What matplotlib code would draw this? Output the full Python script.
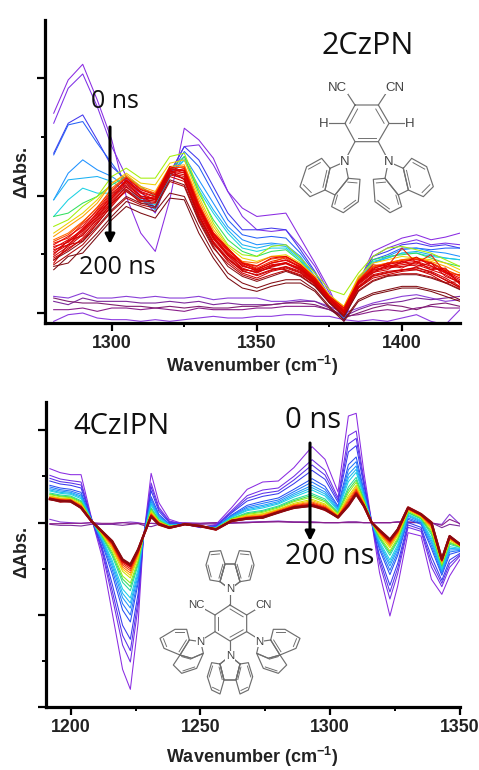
#!/usr/bin/env python3
import numpy as np
import matplotlib
matplotlib.use("Agg")
import matplotlib.pyplot as plt
from matplotlib.colors import LinearSegmentedColormap
from matplotlib.ticker import FixedLocator

W, H = 479, 770

# ── Upper panel (2CzPN), absorbance in arbitrary units ───────────────────────
top_wn = [1280, 1285, 1290, 1295, 1300, 1305, 1310, 1315, 1320, 1325, 1330, 1335, 1340, 1345, 1350,
          1355, 1360, 1365, 1370, 1375, 1380, 1385, 1390, 1395, 1400, 1405, 1410, 1415, 1420]

top_spectra = [
    [600, 700, 747, 640, 520, 350, 240, 185, 340, 555, 520, 465, 365, 315, 290, 295, 300, 225, 150, 70, -25, 90, 185, 205, 225, 235, 220, 228, 240],
    [570, 675, 718, 620, 500, 410, 350, 300, 420, 500, 505, 445, 365, 290, 250, 245, 250, 200, 140, 60, -20, 90, 170, 195, 210, 220, 205, 210, 205],
    [480, 570, 595, 520, 440, 400, 365, 315, 420, 500, 460, 380, 300, 250, 250, 255, 250, 190, 125, 50, -20, 95, 170, 185, 205, 210, 200, 205, 195],
    [475, 565, 575, 510, 450, 390, 350, 315, 415, 485, 440, 360, 280, 235, 225, 230, 225, 180, 120, 50, -20, 90, 160, 175, 195, 195, 190, 195, 195],
    [340, 420, 460, 430, 410, 380, 340, 315, 410, 470, 400, 330, 260, 220, 205, 210, 205, 170, 110, 45, -15, 95, 150, 170, 190, 195, 185, 180, 170],
    [340, 400, 405, 410, 395, 365, 340, 310, 410, 460, 380, 310, 250, 205, 195, 205, 200, 165, 105, 45, -10, 95, 150, 165, 180, 185, 175, 165, 160],
    [290, 340, 375, 360, 360, 370, 340, 325, 415, 460, 370, 300, 240, 195, 185, 195, 195, 160, 105, 45, -5, 100, 155, 165, 180, 180, 170, 165, 160],
    [290, 300, 330, 350, 385, 410, 380, 350, 430, 470, 360, 280, 220, 185, 170, 185, 190, 155, 105, 50, 5, 105, 160, 170, 175, 180, 165, 150, 140],
    [260, 280, 320, 350, 410, 435, 405, 405, 470, 480, 370, 270, 205, 175, 170, 200, 205, 165, 120, 70, 55, 120, 170, 195, 200, 190, 180, 160, 140],
    [240, 270, 300, 340, 390, 420, 390, 385, 450, 460, 350, 260, 200, 165, 155, 170, 175, 150, 110, 55, 20, 110, 150, 160, 170, 165, 160, 150, 130],
    [230, 260, 290, 330, 390, 415, 380, 365, 440, 445, 340, 250, 195, 150, 130, 150, 170, 145, 110, 50, 20, 105, 140, 150, 160, 165, 155, 140, 120],
    [220, 240, 275, 315, 375, 410, 375, 360, 435, 440, 330, 240, 190, 155, 150, 170, 170, 145, 105, 50, 15, 100, 140, 150, 160, 165, 150, 130, 110],
    [215, 235, 272, 318, 370, 408, 372, 358, 436, 438, 328, 242, 192, 152, 142, 162, 168, 142, 102, 48, 12, 98, 138, 148, 158, 162, 152, 130, 112],
    [210, 225, 268, 305, 360, 395, 350, 345, 420, 435, 325, 230, 180, 150, 135, 155, 165, 135, 100, 45, 10, 95, 145, 140, 195, 150, 175, 120, 115],
    [205, 230, 260, 310, 365, 405, 370, 355, 430, 430, 320, 240, 195, 150, 140, 165, 170, 145, 105, 50, 15, 95, 135, 145, 155, 160, 150, 125, 105],
    [200, 212, 255, 300, 350, 398, 362, 348, 430, 428, 318, 236, 190, 148, 132, 150, 158, 138, 98, 45, 8, 92, 132, 150, 150, 168, 142, 122, 100],
    [195, 220, 250, 300, 355, 400, 365, 350, 440, 425, 315, 235, 185, 140, 130, 150, 160, 140, 100, 45, 5, 95, 130, 140, 150, 155, 140, 120, 95],
    [190, 205, 250, 288, 345, 390, 352, 340, 425, 422, 312, 228, 178, 142, 128, 142, 152, 132, 95, 42, 2, 90, 128, 138, 145, 150, 135, 128, 88],
    [185, 215, 245, 295, 345, 395, 360, 340, 435, 420, 310, 230, 175, 145, 125, 145, 150, 135, 95, 45, 5, 85, 120, 145, 135, 155, 130, 135, 85],
    [180, 205, 240, 290, 340, 385, 350, 345, 425, 415, 305, 225, 175, 135, 120, 140, 150, 130, 95, 40, 0, 90, 125, 135, 140, 145, 130, 115, 90],
    [175, 218, 232, 285, 335, 378, 345, 342, 420, 410, 300, 222, 172, 132, 122, 138, 148, 128, 92, 38, 0, 88, 122, 130, 155, 140, 150, 110, 92],
    [165, 190, 225, 275, 330, 380, 345, 335, 415, 405, 295, 215, 165, 125, 115, 130, 140, 125, 90, 35, -5, 80, 115, 125, 130, 135, 125, 105, 80],
    [170, 200, 235, 280, 330, 365, 335, 340, 430, 400, 290, 210, 155, 120, 105, 125, 135, 120, 85, 35, -10, 75, 110, 120, 130, 130, 120, 100, 75],
    [158, 195, 220, 268, 325, 372, 338, 332, 420, 402, 292, 212, 160, 128, 112, 128, 138, 122, 88, 34, -8, 78, 112, 122, 128, 138, 122, 98, 78],
    [150, 205, 215, 270, 320, 370, 330, 330, 410, 395, 285, 205, 165, 130, 125, 135, 130, 115, 90, 30, -5, 75, 105, 115, 125, 130, 115, 90, 95],
    [145, 175, 205, 255, 305, 345, 325, 315, 395, 380, 275, 195, 148, 115, 100, 115, 128, 112, 82, 32, -12, 68, 98, 112, 118, 118, 108, 92, 72],
    [160, 185, 215, 260, 310, 350, 330, 320, 400, 385, 280, 200, 140, 110, 95, 110, 125, 110, 80, 30, -10, 65, 95, 110, 115, 115, 105, 90, 70],
    [140, 150, 195, 240, 290, 335, 320, 305, 360, 350, 260, 180, 120, 90, 75, 90, 100, 100, 70, 20, -20, 40, 60, 70, 80, 80, 70, 60, 40],
    [130, 170, 180, 230, 280, 320, 300, 285, 345, 340, 240, 165, 105, 75, 65, 80, 90, 90, 65, 15, -25, 35, 55, 65, 75, 75, 65, 50, 35],
]

# late traces sitting near the baseline
top_flat = [
    [50, 45, 60, 45, 45, 50, 45, 50, 45, 45, 50, 40, 45, 45, 45, 35, 35, 40, 35, 20, 0, 15, 30, 40, 50, 55, 45, 35, 40],
    [35, 25, 45, 35, 35, 35, 30, 30, 35, 30, 35, 25, 30, 25, 25, 25, 30, 35, 35, 15, -10, 10, 25, 30, 35, 45, 40, 45, 50],
    [10, 10, 15, 5, 15, 15, 10, 15, 10, 5, 15, 10, 10, 10, 15, 15, 20, 20, 20, 10, -10, -5, 5, 10, 5, 15, 20, 15, 15],
    [-25, -5, 0, -15, -20, -20, -25, -20, -25, -20, -15, -10, -15, -15, -10, -10, -5, -5, -10, -10, -20, -25, -20, -25, -15, -5, -25, -35, 10],
    [45, 35, 30, 30, 25, 20, 20, 15, 20, 15, 20, 15, 15, 20, 20, 25, 30, 30, 25, 10, -15, 0, 15, 25, 20, 10, 25, 30, 20],
]

# ── Lower panel (4CzIPN) ─────────────────────────────────────────────────────
bot_wn = [1192, 1196, 1200, 1204, 1208, 1212, 1216, 1220, 1223, 1226, 1228, 1231, 1234, 1238, 1244, 1250, 1256, 1262, 1268,
          1274, 1280, 1286, 1293, 1298, 1303, 1307, 1310, 1313, 1316, 1319, 1323, 1326, 1330, 1335, 1339, 1343, 1346, 1350]

bot_spectra = [
    [162, 150, 144, 144, 15, -100, -270, -440, -500, -300, -50, 148, 60, 10, -5, -15, -5, 45, 100, 122, 125, 165, 228, 190, 92, 320, 328, 150, 0, -150, -280, -190, -30, -40, -170, -215, -160, -110],
    [142, 131, 126, 122, 13, -84, -223, -367, -418, -252, -48, 119, 46, 5, -5, -14, -8, 36, 81, 98, 104, 139, 189, 157, 75, 261, 275, 128, 0, -122, -229, -153, -14, -26, -133, -192, -134, -100],
    [133, 123, 119, 113, 12, -77, -204, -338, -384, -232, -47, 108, 40, 3, -5, -13, -9, 32, 73, 88, 95, 128, 173, 143, 68, 236, 253, 119, 0, -110, -208, -137, -7, -20, -118, -182, -123, -96],
    [125, 116, 112, 104, 11, -70, -184, -308, -350, -212, -46, 96, 34, 0, -5, -13, -11, 29, 65, 79, 87, 117, 157, 130, 61, 212, 231, 110, 0, -99, -188, -122, 0, -14, -102, -173, -112, -92],
    [112, 104, 100, 91, 10, -60, -154, -262, -298, -181, -45, 78, 25, -4, -5, -12, -13, 23, 52, 64, 74, 100, 132, 109, 50, 174, 197, 96, 0, -81, -156, -98, 10, -5, -78, -158, -95, -86],
    [107, 99, 95, 85, 9, -55, -141, -243, -277, -169, -44, 71, 21, -5, -5, -12, -14, 21, 47, 58, 68, 93, 122, 100, 46, 159, 183, 90, 0, -74, -143, -89, 14, -1, -69, -152, -88, -83],
    [102, 95, 91, 80, 9, -51, -130, -225, -256, -157, -44, 64, 18, -6, -5, -12, -15, 19, 43, 52, 63, 87, 112, 92, 42, 145, 170, 85, 0, -67, -130, -80, 19, 2, -60, -147, -82, -81],
    [98, 91, 88, 76, 8, -48, -121, -212, -241, -148, -43, 58, 15, -7, -5, -11, -15, 17, 39, 48, 59, 82, 105, 86, 39, 134, 160, 81, 0, -62, -121, -73, 22, 5, -53, -142, -77, -79],
    [95, 88, 85, 72, 8, -45, -113, -199, -226, -139, -43, 53, 13, -8, -5, -11, -16, 16, 36, 44, 56, 77, 98, 80, 36, 123, 151, 77, 0, -57, -112, -66, 25, 7, -46, -138, -72, -77],
    [89, 83, 80, 66, 7, -41, -100, -179, -204, -126, -42, 45, 9, -10, -5, -11, -17, 13, 30, 37, 50, 70, 87, 71, 31, 107, 136, 71, 0, -49, -98, -56, 29, 11, -36, -132, -65, -74],
    [86, 80, 77, 63, 7, -38, -93, -169, -192, -119, -42, 41, 7, -10, -5, -11, -17, 12, 27, 34, 47, 66, 82, 66, 29, 98, 128, 68, 0, -45, -91, -51, 31, 13, -30, -129, -61, -73],
    [84, 78, 75, 60, 7, -36, -87, -160, -181, -113, -42, 37, 5, -11, -5, -11, -18, 11, 25, 31, 44, 63, 77, 62, 27, 90, 121, 65, 0, -41, -85, -46, 34, 15, -25, -126, -58, -72],
    [80, 74, 72, 56, 6, -33, -79, -146, -166, -104, -41, 32, 2, -12, -5, -10, -18, 9, 22, 27, 40, 58, 70, 56, 23, 80, 112, 61, 0, -36, -75, -39, 37, 18, -19, -122, -53, -70],
    [78, 72, 70, 54, 6, -31, -74, -139, -158, -99, -41, 29, 1, -12, -5, -10, -18, 8, 20, 25, 39, 55, 66, 53, 21, 74, 107, 59, 0, -33, -70, -35, 38, 19, -15, -119, -50, -69],
    [76, 71, 69, 52, 6, -30, -70, -133, -151, -95, -41, 27, 0, -13, -5, -10, -19, 8, 18, 22, 37, 53, 62, 50, 20, 69, 102, 57, 0, -31, -66, -32, 40, 20, -12, -117, -48, -68],
    [74, 69, 67, 50, 5, -29, -66, -127, -144, -91, -40, 25, -1, -13, -5, -10, -19, 7, 16, 20, 35, 51, 59, 47, 19, 64, 98, 55, 0, -29, -62, -29, 41, 22, -9, -115, -46, -67],
    [73, 68, 66, 48, 5, -28, -63, -122, -138, -88, -40, 23, -2, -14, -5, -10, -19, 6, 15, 19, 33, 49, 56, 45, 18, 59, 94, 53, 0, -27, -58, -26, 42, 23, -6, -114, -44, -67],
    [71, 66, 64, 46, 5, -26, -59, -116, -131, -84, -40, 20, -3, -15, -5, -10, -20, 5, 13, 17, 31, 47, 53, 42, 16, 54, 89, 51, 0, -24, -54, -23, 44, 24, -3, -112, -42, -66],
    [72, 63, 66, 44, 4, -27, -57, -112, -127, -81, -40, 19, -6, -16, -4, -11, -21, 6, 12, 15, 32, 44, 52, 38, 17, 52, 86, 49, 0, -23, -52, -21, 46, 26, 1, -109, -41, -64],
    [70, 65, 63, 45, 5, -25, -55, -110, -125, -80, -40, 18, -5, -15, -5, -10, -20, 5, 12, 15, 30, 45, 50, 40, 15, 50, 85, 50, 0, -22, -50, -20, 45, 25, 0, -110, -40, -65],
]

bot_flat = [
    [10, 2, 0, -2, 0, -5, -3, 0, 2, 0, -3, -2, -5, 0, 0, -2, 0, 0, 2, 3, 5, 2, 2, 0, 0, 2, 2, 0, 0, 0, 0, 2, 2, 0, -2, -5, 25, -5],
    [-5, -8, -8, -10, -5, -5, -5, -8, -5, -3, -8, -12, -5, -5, -5, -5, -3, -2, 0, 2, 3, 1, 0, 0, 0, 0, 0, 0, 0, 0, 0, 2, 2, 0, 0, -15, -5, -10],
    [-3, -3, -2, -2, 0, -2, -2, 0, -2, -2, -4, -2, -2, -2, -2, -2, 0, 0, 0, 2, 3, 2, 2, 0, 0, 2, 2, 0, 0, 0, 0, 2, 0, 0, 0, -8, 10, -3],
]

top_xticks = [1300, 1350, 1400]
bot_xticks = [1200, 1250, 1300, 1350]

# the upper panel spends more of its traces in the red end
top_cmap = LinearSegmentedColormap.from_list("spec_top", [
    (0.00, "#8a2be2"), (0.05, "#7a30e8"), (0.08, "#2a3cf0"), (0.14, "#1e90ff"), (0.21, "#19d0e8"),
    (0.25, "#30e060"), (0.29, "#b0f000"), (0.33, "#ffc800"), (0.40, "#ff5a00"),
    (0.50, "#e60000"), (0.88, "#c80000"), (0.93, "#8a1015"), (1.00, "#7a0a10"),
])
bot_cmap = LinearSegmentedColormap.from_list("spec_bot", [
    (0.00, "#8a2be2"), (0.10, "#5a30ea"), (0.18, "#2a3cf0"), (0.30, "#1e90ff"), (0.42, "#19d0e8"),
    (0.52, "#30e060"), (0.60, "#b0f000"), (0.68, "#ffc800"), (0.76, "#ff5a00"),
    (0.88, "#e00000"), (1.00, "#8a0a10"),
])


def make_axes(fig, left, right, top_px, bottom_px):
    return fig.add_axes([left / W, 1 - bottom_px / H, (right - left) / W, (bottom_px - top_px) / H])


def style_axes(ax, xticks, xminor, ymajor, yminor):
    ax.patch.set_alpha(0)
    ax.spines[["top", "right"]].set_visible(False)
    ax.spines[["left", "bottom"]].set_linewidth(2.3)
    ax.set_xticks(xticks)
    ax.xaxis.set_minor_locator(FixedLocator(xminor))
    ax.set_yticks(ymajor)
    ax.set_yticklabels([])
    ax.yaxis.set_minor_locator(FixedLocator(yminor))
    ax.tick_params(which="major", length=5.5, width=1.6, labelsize=12.8)
    ax.tick_params(which="minor", length=3, width=1.4)
    ax.tick_params(axis="x", pad=3.5)
    for lab in ax.get_xticklabels():
        lab.set_fontweight("bold")
        lab.set_color("#222222")


def draw_spectra(ax, wn, spectra, flat, cmap, thick=0):
    for c, row in zip(["#8a3fd8", "#7d2a9a", "#8a1f8a", "#8e3be0", "#80206f"], flat):
        ax.plot(wn, row, color=c, lw=0.8, zorder=2)
    n = len(spectra)
    for i, row in enumerate(spectra):
        lw = 1.6 if i >= n - thick else 0.75
        ax.plot(wn, row, color=cmap(i / (n - 1)), lw=lw, zorder=3 + i)


def ring(ov, pts, ox, oy, inner=(), color="#6e6e6e", lw=0.85):
    xy = np.array(pts + pts[:1], dtype=float) / 3
    ov.plot(xy[:, 0] + ox, xy[:, 1] + oy, color=color, lw=lw, solid_joinstyle="round", zorder=20)
    # double bonds are drawn a little inside the ring
    c = xy[:-1].mean(axis=0)
    for k in inner:
        a, b = xy[k], xy[k + 1]
        a2 = a + (c - a) * 0.22
        b2 = b + (c - b) * 0.22
        ov.plot([a2[0] + ox, b2[0] + ox], [a2[1] + oy, b2[1] + oy], color=color, lw=lw * 0.8, zorder=20)


def bond(ov, p, q, ox, oy, color="#6e6e6e", lw=0.85):
    ov.plot([p[0] / 3 + ox, q[0] / 3 + ox], [p[1] / 3 + oy, q[1] / 3 + oy], color=color, lw=lw, zorder=20)


def atom(ov, s, p, ox, oy, size=9.5):
    ov.text(p[0] / 3 + ox, p[1] / 3 + oy, s, ha="center", va="center", fontsize=size,
            family="Liberation Sans", color="#444444", zorder=21,
            bbox=dict(fc="white", ec="none", pad=0.3))


def mirror(pts, axis):
    return [(2 * axis - x, y) for x, y in pts]


def draw_2czpn(ov, ox=290, oy=70):
    ring(ov, [(195, 105), (265, 105), (297, 160), (265, 215), (195, 215), (165, 160)], ox, oy, inner=(1, 3, 5))
    bond(ov, (195, 105), (172, 70), ox, oy)
    bond(ov, (265, 105), (288, 70), ox, oy)
    bond(ov, (165, 160), (118, 160), ox, oy)
    bond(ov, (297, 160), (345, 160), ox, oy)
    bond(ov, (195, 215), (172, 258), ox, oy)
    bond(ov, (265, 215), (288, 258), ox, oy)
    five = [(165, 275), (120, 295), (105, 360), (135, 375), (175, 325)]
    left = [(120, 295), (95, 265), (50, 290), (30, 350), (60, 380), (105, 360)]
    low = [(175, 325), (210, 328), (205, 395), (160, 428), (125, 410), (135, 375)]
    for pts, inner in [(five, ()), (left, (1, 3, 5)), (low, (0, 2, 4))]:
        ring(ov, pts, ox, oy, inner)
        ring(ov, mirror(pts, 230), ox, oy, inner)
    atom(ov, "NC", (143, 54), ox, oy)
    atom(ov, "CN", (315, 54), ox, oy)
    atom(ov, "H", (100, 162), ox, oy)
    atom(ov, "H", (360, 162), ox, oy)
    atom(ov, "N", (165, 275), ox, oy)
    atom(ov, "N", (295, 275), ox, oy)


def draw_4czipn(ov, ox=150, oy=540):
    ring(ov, [(240, 195), (290, 225), (290, 275), (240, 303), (195, 275), (195, 225)], ox, oy, inner=(0, 2, 4))
    bond(ov, (240, 195), (240, 160), ox, oy)
    bond(ov, (240, 303), (240, 338), ox, oy)
    bond(ov, (195, 225), (165, 208), ox, oy)
    bond(ov, (290, 225), (318, 208), ox, oy)
    bond(ov, (195, 275), (163, 295), ox, oy)
    bond(ov, (290, 275), (322, 295), ox, oy)
    groups = [
        ([(240, 148), (210, 125), (225, 72), (255, 72), (270, 125)], ()),
        ([(210, 125), (180, 120), (168, 75), (180, 35), (212, 32), (225, 72)], (1, 3, 5)),
        ([(240, 348), (210, 372), (222, 420), (258, 420), (270, 372)], ()),
        ([(210, 372), (185, 368), (172, 410), (185, 450), (210, 462), (222, 420)], (1, 3, 5)),
        ([(152, 305), (118, 300), (90, 345), (125, 355), (160, 340)], ()),
        ([(118, 300), (110, 268), (75, 268), (30, 295), (42, 325), (90, 345)], (1, 3, 5)),
        ([(90, 345), (125, 355), (160, 340), (140, 385), (95, 400), (70, 375)], (0, 3)),
    ]
    for pts, inner in groups:
        ring(ov, pts, ox, oy, inner)
        ring(ov, mirror(pts, 240), ox, oy, inner)
    atom(ov, "NC", (140, 195), ox, oy, 8.2)
    atom(ov, "CN", (342, 195), ox, oy, 8.2)
    atom(ov, "N", (240, 148), ox, oy, 8.2)
    atom(ov, "N", (240, 348), ox, oy, 8.2)
    atom(ov, "N", (152, 305), ox, oy, 8.2)
    atom(ov, "N", (328, 305), ox, oy, 8.2)


def main():
    plt.rcParams["font.family"] = ["Liberation Sans", "DejaVu Sans"]
    plt.rcParams["mathtext.fontset"] = "custom"
    plt.rcParams["mathtext.bf"] = "Liberation Sans:bold"
    fig = plt.figure(figsize=(W / 100, H / 100), dpi=100, facecolor="white")

    ax1 = make_axes(fig, 45, 460, 20, 323)
    draw_spectra(ax1, top_wn, top_spectra, top_flat, top_cmap)
    ax1.set_xlim(1277, 1420)
    ax1.set_ylim(-30, 880)
    style_axes(ax1, top_xticks, [1325, 1375], [0, 352.5, 705], [176.25, 528.75])

    ax2 = make_axes(fig, 46, 460, 402, 707)
    draw_spectra(ax2, bot_wn, bot_spectra, bot_flat, bot_cmap, thick=3)
    ax2.set_xlim(1190.5, 1350)
    ax2.set_ylim(-553, 362)
    style_axes(ax2, bot_xticks, [1225, 1275, 1325], [-553, -277.5, 0, 277.5], [-415, -138.75, 138.75])

    # overlay in pixel coordinates for labels, arrows and structures
    ov = fig.add_axes([0, 0, 1, 1], zorder=10)
    ov.set_xlim(0, W)
    ov.set_ylim(H, 0)
    ov.axis("off")

    for x, y, s, size in [(368, 46, "2CzPN", 22), (115, 101, "0 ns", 18), (117, 267, "200 ns", 18),
                          (122, 427, "4CzIPN", 21), (313, 420, "0 ns", 21), (330, 557, "200 ns", 21)]:
        ov.text(x, y, s, ha="center", va="center", fontsize=size, family="Open Sans", color="#111111", zorder=22)

    for x, y0, y1 in [(110, 127, 244), (310, 443, 541)]:
        ov.annotate("", xy=(x, y1), xytext=(x, y0), zorder=23,
                    arrowprops=dict(arrowstyle="-|>,head_width=0.28,head_length=0.55", color="black",
                                    lw=2.2, shrinkA=0, shrinkB=0))

    for x, y in [(252, 366), (252, 757)]:
        ov.text(x, y, "Wavenumber (cm$^{\\mathbf{-1}}$)", ha="center", va="center", fontsize=13,
                fontweight="bold", color="#222222")
    for y in [172, 552]:
        ov.text(22, y, "ΔAbs.", rotation=90, ha="center", va="center", fontsize=13,
                fontweight="bold", color="#222222")

    draw_2czpn(ov)
    draw_4czipn(ov)

    fig.savefig("out.png", dpi=100)
    plt.close(fig)


if __name__ == "__main__":
    main()
